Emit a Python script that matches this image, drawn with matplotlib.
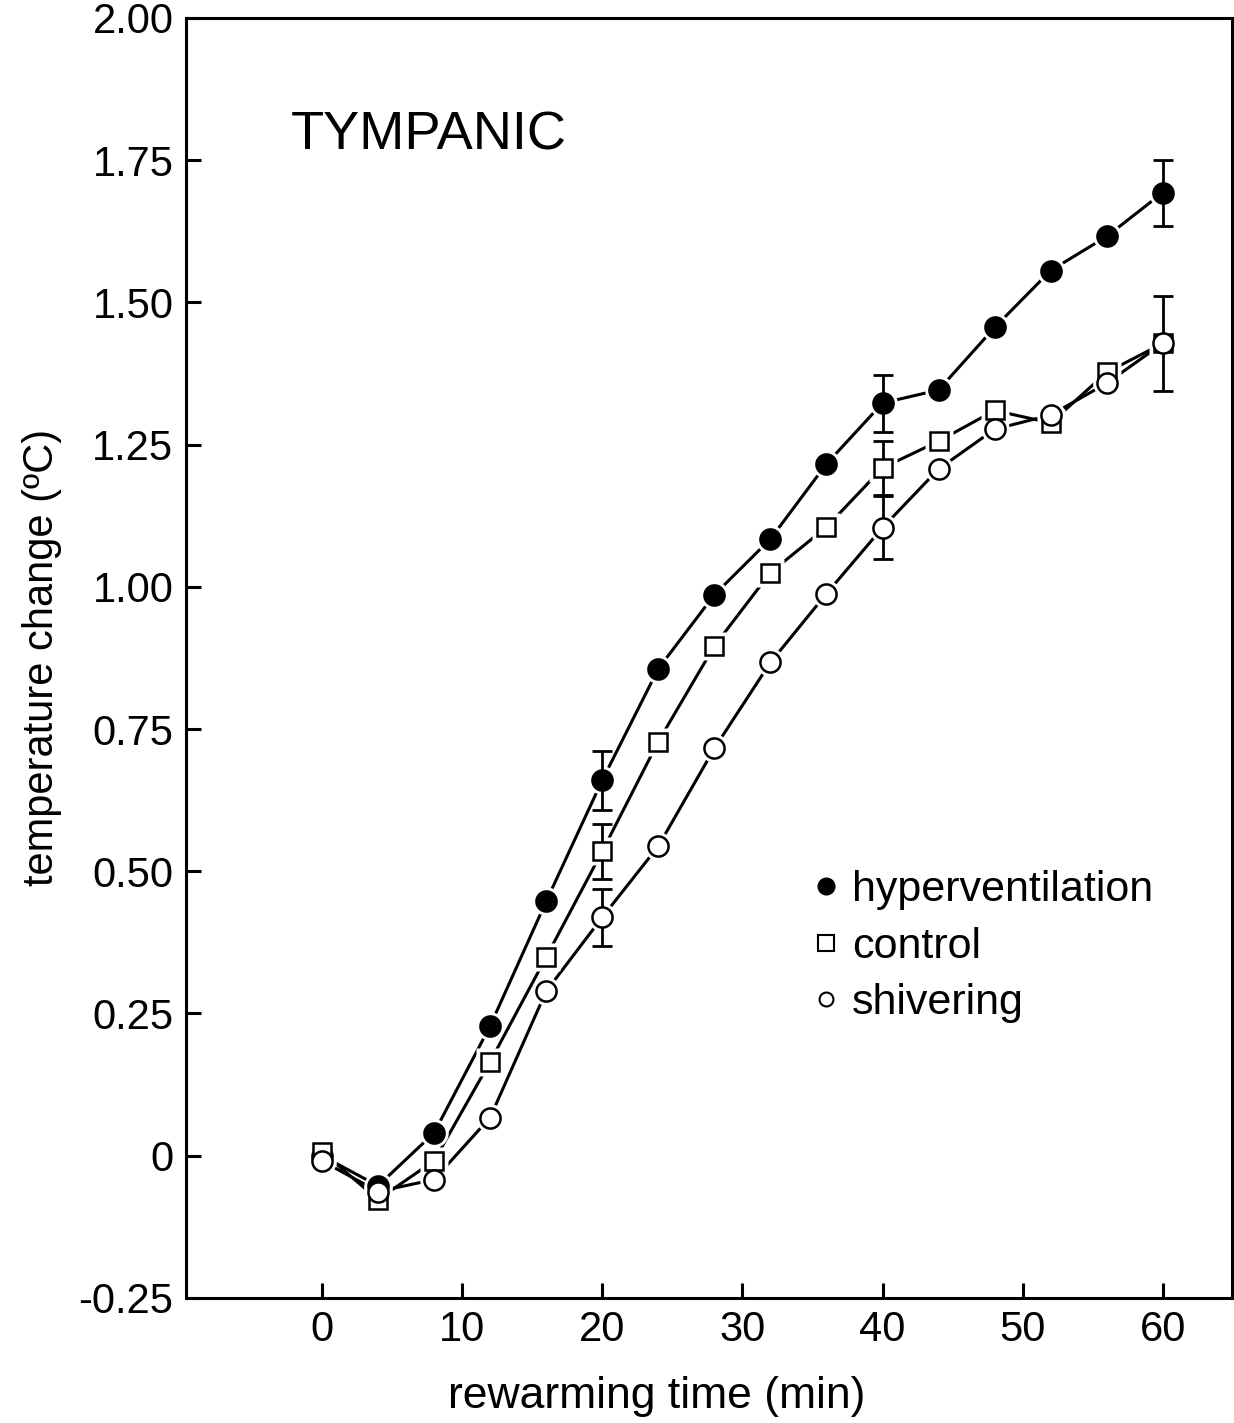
import numpy as np
import matplotlib
matplotlib.use("Agg")
import matplotlib.pyplot as plt
from matplotlib.lines import Line2D

plt.rcParams['font.family'] = ['Liberation Sans', 'DejaVu Sans']

# rewarming time (min)
time = [0, 4, 8, 12, 16, 20, 24, 28, 32, 36, 40, 44, 48, 52, 56, 60]

# temperature change (deg C)
hyper = [0.0, -0.053, 0.04, 0.228, 0.447, 0.66, 0.856, 0.986, 1.084, 1.216,
         1.323, 1.346, 1.456, 1.556, 1.616, 1.693]
control = [0.007, -0.077, -0.009, 0.165, 0.349, 0.535, 0.728, 0.896, 1.025, 1.105,
           1.209, 1.256, 1.31, 1.288, 1.377, 1.428]
shiver = [-0.009, -0.063, -0.042, 0.067, 0.289, 0.419, 0.544, 0.716, 0.867, 0.988,
          1.104, 1.207, 1.277, 1.302, 1.358, 1.428]

# error bars (time, half-width)
hyper_err_t = [20, 40, 60]
hyper_err = [0.052, 0.05, 0.058]
control_err_t = [20, 40, 60]
control_err = [0.048, 0.047, 0.083]
shiver_err_t = [20, 40]
shiver_err = [0.05, 0.055]

fig = plt.figure(figsize=(12.34, 14.23), dpi=100)
ax = fig.add_axes([0.1507, 0.0879, 0.8473, 0.8995])

series = [
    (hyper, hyper_err_t, hyper_err, 'o', 'black', 'hyperventilation'),
    (control, control_err_t, control_err, 's', 'white', 'control'),
    (shiver, shiver_err_t, shiver_err, 'o', 'white', 'shivering'),
]

def msize(mk):
    return 14.5 if mk == 'o' else 13.5

for vals, et, ee, mk, fc, lab in series:
    ax.plot(time, vals, color='black', lw=2.2, zorder=1)
for vals, et, ee, mk, fc, lab in series:
    # white halo to break the line at each marker
    ax.plot(time, vals, ls='none', marker=mk, ms=msize(mk) + 6, mfc='white',
            mec='none', zorder=2)
for vals, et, ee, mk, fc, lab in series:
    ey = [vals[time.index(t)] for t in et]
    ax.errorbar(et, ey, yerr=ee, fmt='none', ecolor='black', elinewidth=2,
                capsize=7.5, capthick=2, zorder=3)
for vals, et, ee, mk, fc, lab in series:
    ax.plot(time, vals, ls='none', marker=mk, ms=msize(mk), mfc=fc, mec='black',
            mew=1.8, zorder=4)

ax.set_xlim(-9.7, 64.9)
ax.set_ylim(-0.25, 2.0)
ax.set_xticks([0, 10, 20, 30, 40, 50, 60])
yt = [-0.25, 0, 0.25, 0.5, 0.75, 1.0, 1.25, 1.5, 1.75, 2.0]
ax.set_yticks(yt)
ax.set_yticklabels(['-0.25', '0', '0.25', '0.50', '0.75', '1.00', '1.25',
                    '1.50', '1.75', '2.00'])
ax.tick_params(direction='in', length=11, width=2.2, labelsize=30, pad=9)
for s in ax.spines.values():
    s.set_linewidth(2.2)

ax.set_xlabel('rewarming time (min)', fontsize=32)
ax.xaxis.set_label_coords(0.45, -0.061)
ax.set_ylabel('temperature change (ºC)', fontsize=30, labelpad=12)

ax.text(0.1, 0.908, 'TYMPANIC', transform=ax.transAxes, fontsize=39,
        va='center', ha='left')

handles = [
    Line2D([], [], ls='none', marker='o', ms=12, mfc='black', mec='black'),
    Line2D([], [], ls='none', marker='s', ms=11, mfc='white', mec='black', mew=1.5),
    Line2D([], [], ls='none', marker='o', ms=10, mfc='white', mec='black', mew=1.5),
]
ax.legend(handles, ['hyperventilation', 'control', 'shivering'],
          loc='upper left', bbox_to_anchor=(0.6, 0.334), frameon=False,
          fontsize=31, handlelength=0.6, handletextpad=0.3, labelspacing=0.38,
          borderpad=0, borderaxespad=0)

fig.savefig('out.png', dpi=100)
